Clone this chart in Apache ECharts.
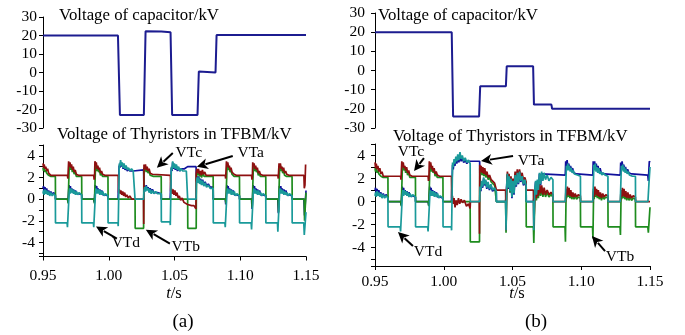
<!DOCTYPE html>
<html><head><meta charset="utf-8">
<script src="https://cdn.jsdelivr.net/npm/echarts@6/dist/echarts.min.js"></script>
<style>html,body{margin:0;padding:0;background:#fff}#c{width:685px;height:335px}</style>
</head><body><div id="c"></div>
<script>
// ---- tick labels ----
const xTicks = [0.95, 1.00, 1.05, 1.10, 1.15];
const capTicks = [-30, -20, -10, 0, 10, 20, 30];
const thyTicks = [-4, -2, 0, 2, 4];

// ---- panel (a): capacitor voltage (kV) vs t (s) ----
const capA = [[0.95,20],[1.0070,20],[1.0085,-23],[1.0267,-23],[1.0280,22.3],[1.0400,22.1],[1.0470,21.8],[1.0482,-23],[1.0675,-23],[1.0685,0.5],[1.0700,0],[1.0812,0],[1.0820,20.3],[1.15,20.3]];
// ---- panel (b): capacitor voltage ----
const capB = [[0.95,20],[1.0058,20],[1.0068,-24],[1.0257,-24],[1.0265,-8.2],[1.0452,-8.2],[1.0458,2.2],[1.0650,2.2],[1.0656,-17.8],[1.0783,-17.8],[1.0788,-20],[1.15,-20]];

// ---- panel (a): thyristor voltages (kV) ----
const vtaA = [[0.9500,1.0],[0.9504,1.2],[0.9509,0.6],[0.9515,1.1],[0.9521,0.7],[0.9528,1.0],[0.9535,0.5],[0.9543,0.8],[0.9551,0.4],[0.9560,0.7],[0.9570,0.4],[0.9580,0.6],[0.9594,0.4],[0.9595,0],
[0.9686,0],[0.9690,-0.3],[0.9698,1.3],[0.9703,0.9],[0.9708,1.2],[0.9713,0.7],[0.9719,1.0],[0.9725,0.6],[0.9732,0.9],[0.9739,0.5],[0.9747,0.8],[0.9755,0.5],[0.9764,0.6],[0.9774,0.5],[0.9794,0.4],[0.9795,0],
[0.9886,0],[0.9890,-0.3],[0.9898,1.3],[0.9903,0.9],[0.9908,1.2],[0.9913,0.7],[0.9919,1.0],[0.9925,0.6],[0.9932,0.9],[0.9939,0.5],[0.9947,0.8],[0.9955,0.4],[0.9964,0.5],[0.9974,0.4],[0.9994,0.3],[0.9995,0],
[1.0071,0],[1.0079,3.1],[1.0085,2.9],[1.0090,3.4],[1.0096,3.0],[1.0102,3.3],[1.0109,2.8],[1.0116,3.2],[1.0124,2.7],[1.0132,3.0],[1.0141,2.6],[1.0150,2.8],[1.0161,2.6],[1.0173,2.7],[1.0186,2.6],[1.0200,2.7],[1.0265,2.7],
[1.0268,0.9],[1.0273,1.2],[1.0279,0.8],[1.0285,1.3],[1.0292,0.9],[1.0299,1.1],[1.0307,0.7],[1.0315,1.0],[1.0323,0.6],[1.0332,0.9],[1.0343,0.6],[1.0356,0.7],[1.0371,0.6],[1.0386,0.6],[1.0399,0.5],[1.0400,0],
[1.0467,0],[1.0476,2.9],[1.0481,2.6],[1.0486,3.4],[1.0492,2.8],[1.0499,3.2],[1.0506,2.7],[1.0514,3.1],[1.0522,2.6],[1.0531,2.9],[1.0540,2.6],[1.0550,2.8],[1.0562,2.7],[1.0576,2.8],[1.0590,2.9],[1.0600,3.0],[1.0664,3.0],
[1.0667,1.6],[1.0672,2.1],[1.0678,1.6],[1.0684,2.1],[1.0691,1.5],[1.0698,1.9],[1.0706,1.4],[1.0714,1.8],[1.0723,1.3],[1.0733,1.6],[1.0744,1.2],[1.0757,1.4],[1.0771,1.1],[1.0794,1.1],[1.0795,0],
[1.0886,0],[1.0890,-0.5],[1.0898,1.3],[1.0903,0.9],[1.0908,1.2],[1.0913,0.7],[1.0919,1.0],[1.0925,0.6],[1.0932,0.9],[1.0939,0.5],[1.0947,0.8],[1.0955,0.4],[1.0964,0.5],[1.0974,0.4],[1.0994,0.3],[1.0995,0],
[1.1086,0],[1.1090,-0.9],[1.1098,1.3],[1.1103,0.9],[1.1108,1.2],[1.1113,0.7],[1.1119,1.0],[1.1125,0.6],[1.1132,0.9],[1.1139,0.5],[1.1147,0.8],[1.1155,0.4],[1.1164,0.5],[1.1174,0.4],[1.1194,0.3],[1.1195,0],
[1.1286,0],[1.1290,-1.3],[1.1298,1.2],[1.1303,0.9],[1.1308,1.2],[1.1313,0.7],[1.1319,1.0],[1.1325,0.6],[1.1332,0.9],[1.1339,0.5],[1.1347,0.8],[1.1355,0.4],[1.1364,0.5],[1.1374,0.4],[1.1394,0.3],[1.1395,0],
[1.1484,0],[1.1489,-1.5],[1.1500,0.8]];

const vtbA = [[0.9500,2.9],[0.9504,2.6],[0.9509,2.9],[0.9515,2.5],[0.9521,2.7],[0.9528,2.4],[0.9535,2.5],[0.9543,2.2],[0.9551,2.3],[0.9560,2.1],[0.9575,2.1],[0.9594,2.1],[0.9595,0],
[0.9688,0],[0.9691,-0.4],[0.9699,2.9],[0.9705,3.2],[0.9711,2.7],[0.9717,3.0],[0.9723,2.5],[0.9730,2.8],[0.9737,2.3],[0.9745,2.5],[0.9753,2.1],[0.9765,2.2],[0.9794,2.1],[0.9795,0],
[0.9888,0],[0.9891,-0.4],[0.9899,2.9],[0.9905,3.2],[0.9911,2.6],[0.9917,2.9],[0.9923,2.5],[0.9930,2.7],[0.9937,2.2],[0.9945,2.4],[0.9953,2.1],[0.9965,2.2],[0.9994,2.1],[0.9995,0],
[1.0200,0],[1.0201,-2.7],[1.0265,-2.7],[1.0267,2.9],[1.0273,2.6],[1.0279,3.0],[1.0285,2.5],[1.0292,2.8],[1.0299,2.4],[1.0307,2.6],[1.0315,2.2],[1.0325,2.3],[1.0340,2.1],[1.0399,2.1],[1.0400,0],
[1.0600,0],[1.0601,-2.7],[1.0665,-2.7],[1.0667,2.2],[1.0672,2.6],[1.0678,2.2],[1.0684,2.6],[1.0691,2.1],[1.0698,2.4],[1.0706,2.0],[1.0715,2.4],[1.0725,2.1],[1.0740,2.1],[1.0794,2.1],[1.0795,0],
[1.0888,0],[1.0891,-0.4],[1.0899,2.9],[1.0905,3.2],[1.0911,2.7],[1.0917,2.9],[1.0923,2.5],[1.0930,2.7],[1.0937,2.3],[1.0945,2.4],[1.0953,2.1],[1.0965,2.2],[1.0994,2.1],[1.0995,0],
[1.1088,0],[1.1091,-0.8],[1.1099,2.8],[1.1105,3.1],[1.1111,2.6],[1.1117,2.9],[1.1123,2.5],[1.1130,2.7],[1.1137,2.2],[1.1145,2.4],[1.1153,2.1],[1.1165,2.2],[1.1194,2.1],[1.1195,0],
[1.1288,0],[1.1291,-1.2],[1.1299,2.8],[1.1305,3.1],[1.1311,2.6],[1.1317,2.8],[1.1323,2.4],[1.1330,2.6],[1.1337,2.2],[1.1345,2.3],[1.1353,2.1],[1.1365,2.2],[1.1394,2.1],[1.1395,0],
[1.1486,0],[1.1489,-2.0],[1.1500,0.6]];

const vtcA = [[0.9500,3.3],[0.9504,2.9],[0.9509,3.2],[0.9515,2.8],[0.9521,3.0],[0.9528,2.6],[0.9535,2.8],[0.9543,2.4],[0.9551,2.5],[0.9560,2.2],[0.9570,2.3],[0.9580,2.2],
[0.9686,2.2],[0.9689,1.9],[0.9692,2.0],[0.9695,3.5],[0.9700,3.0],[0.9705,3.4],[0.9711,2.9],[0.9717,3.2],[0.9723,2.7],[0.9730,3.0],[0.9737,2.5],[0.9745,2.7],[0.9753,2.3],[0.9761,2.4],[0.9770,2.2],
[0.9886,2.2],[0.9889,1.8],[0.9892,2.0],[0.9895,3.5],[0.9900,3.1],[0.9905,3.4],[0.9911,2.8],[0.9917,3.1],[0.9923,2.7],[0.9930,2.9],[0.9937,2.4],[0.9945,2.6],[0.9953,2.3],[0.9961,2.4],[0.9970,2.2],
[1.0072,2.2],[1.0075,0.6],[1.0080,0.9],[1.0086,0.5],[1.0092,0.8],[1.0099,0.4],[1.0106,0.7],[1.0113,0.3],[1.0121,0.6],[1.0129,0.2],[1.0138,0.4],[1.0148,0.1],[1.0160,0.3],[1.0175,0.0],[1.0190,0.1],[1.0200,0.0],
[1.0264,0.0],[1.0266,-2.3],[1.0268,3.2],[1.0273,2.8],[1.0279,3.2],[1.0285,2.7],[1.0292,3.0],[1.0299,2.6],[1.0307,2.8],[1.0315,2.4],[1.0323,2.5],[1.0332,2.3],[1.0342,2.2],
[1.0469,2.2],[1.0471,0.7],[1.0476,1.0],[1.0482,0.5],[1.0489,0.9],[1.0496,0.4],[1.0503,0.8],[1.0511,0.3],[1.0519,0.6],[1.0528,0.1],[1.0537,0.3],[1.0547,-0.1],[1.0558,0.1],[1.0572,-0.3],[1.0586,-0.2],[1.0600,-0.5],[1.0615,-0.4],[1.0630,-0.6],[1.0648,-0.6],[1.0663,-0.9],
[1.0665,2.4],[1.0670,2.8],[1.0676,2.4],[1.0682,2.8],[1.0689,2.3],[1.0696,2.6],[1.0704,2.2],[1.0712,2.7],[1.0720,2.3],[1.0730,2.5],[1.0740,2.2],[1.0752,2.3],[1.0765,2.2],
[1.0886,2.2],[1.0889,1.9],[1.0892,2.0],[1.0895,3.5],[1.0900,3.0],[1.0905,3.4],[1.0911,2.9],[1.0917,3.1],[1.0923,2.7],[1.0930,2.9],[1.0937,2.5],[1.0945,2.6],[1.0953,2.3],[1.0961,2.4],[1.0970,2.2],
[1.1086,2.2],[1.1089,1.8],[1.1092,2.0],[1.1095,3.4],[1.1100,3.0],[1.1105,3.3],[1.1111,2.8],[1.1117,3.1],[1.1123,2.7],[1.1130,2.9],[1.1137,2.4],[1.1145,2.6],[1.1153,2.3],[1.1161,2.4],[1.1170,2.2],
[1.1286,2.2],[1.1289,1.9],[1.1292,2.0],[1.1295,3.3],[1.1300,2.9],[1.1305,3.3],[1.1311,2.8],[1.1317,3.0],[1.1323,2.6],[1.1330,2.9],[1.1337,2.4],[1.1345,2.6],[1.1353,2.3],[1.1361,2.4],[1.1370,2.2],
[1.1484,2.2],[1.1487,1.0],[1.1492,1.3],[1.1497,3.2],[1.1500,3.2]];

const vtdA = [[0.9500,0.5],[0.9504,0.8],[0.9509,0.4],[0.9515,0.9],[0.9521,0.5],[0.9528,0.8],[0.9535,0.4],[0.9543,0.7],[0.9551,0.3],[0.9560,0.6],[0.9570,0.3],[0.9580,0.5],[0.9594,0.3],[0.9595,-2.2],
[0.9683,-2.2],[0.9686,-2.6],[0.9699,0.6],[0.9703,1.0],[0.9708,0.5],[0.9713,1.0],[0.9719,0.6],[0.9725,0.9],[0.9732,0.5],[0.9739,0.8],[0.9747,0.4],[0.9755,0.7],[0.9764,0.4],[0.9774,0.6],[0.9794,0.4],[0.9795,-2.2],
[0.9883,-2.2],[0.9886,-2.6],[0.9899,0.6],[0.9903,1.0],[0.9908,0.5],[0.9913,0.9],[0.9919,0.5],[0.9925,0.9],[0.9932,0.4],[0.9939,0.8],[0.9947,0.4],[0.9955,0.7],[0.9964,0.3],[0.9974,0.5],[0.9994,0.3],[0.9995,-2.2],
[1.0070,-2.2],[1.0072,-2.5],[1.0080,3.3],[1.0085,3.0],[1.0090,3.6],[1.0096,3.1],[1.0102,3.4],[1.0109,2.9],[1.0116,3.3],[1.0124,2.8],[1.0132,3.1],[1.0141,2.7],[1.0150,2.9],[1.0161,2.6],[1.0173,2.8],[1.0186,2.6],[1.0199,2.7],[1.0200,0],
[1.0265,0],[1.0268,0.8],[1.0273,1.1],[1.0279,0.7],[1.0285,1.2],[1.0292,0.8],[1.0299,1.0],[1.0307,0.6],[1.0315,0.9],[1.0323,0.5],[1.0332,0.8],[1.0343,0.5],[1.0356,0.7],[1.0371,0.5],[1.0386,0.6],[1.0399,0.5],[1.0400,-2.1],
[1.0466,-2.1],[1.0468,-2.4],[1.0476,3.0],[1.0481,2.7],[1.0486,3.5],[1.0492,2.9],[1.0499,3.3],[1.0506,2.8],[1.0514,3.2],[1.0522,2.7],[1.0531,3.0],[1.0540,2.6],[1.0550,2.8],[1.0562,2.6],[1.0576,2.7],[1.0590,2.6],[1.0599,2.6],[1.0600,0],
[1.0664,0],[1.0667,1.5],[1.0672,2.0],[1.0678,1.5],[1.0684,2.0],[1.0691,1.4],[1.0698,1.8],[1.0706,1.3],[1.0714,1.7],[1.0723,1.2],[1.0733,1.5],[1.0744,1.1],[1.0757,1.3],[1.0771,1.0],[1.0785,1.1],[1.0794,1.0],[1.0795,-2.2],
[1.0883,-2.2],[1.0886,-2.6],[1.0899,0.6],[1.0903,1.0],[1.0908,0.5],[1.0913,0.9],[1.0919,0.5],[1.0925,0.9],[1.0932,0.4],[1.0939,0.8],[1.0947,0.4],[1.0955,0.7],[1.0964,0.3],[1.0974,0.5],[1.0994,0.3],[1.0995,-2.2],
[1.1083,-2.2],[1.1086,-2.8],[1.1099,0.6],[1.1103,1.0],[1.1108,0.5],[1.1113,0.9],[1.1119,0.5],[1.1125,0.8],[1.1132,0.4],[1.1139,0.8],[1.1147,0.4],[1.1155,0.6],[1.1164,0.3],[1.1174,0.5],[1.1194,0.3],[1.1195,-2.2],
[1.1283,-2.2],[1.1286,-3.0],[1.1299,0.6],[1.1303,1.0],[1.1308,0.5],[1.1313,0.9],[1.1319,0.5],[1.1325,0.8],[1.1332,0.4],[1.1339,0.7],[1.1347,0.4],[1.1355,0.6],[1.1364,0.3],[1.1374,0.5],[1.1394,0.3],[1.1395,-2.2],
[1.1483,-2.2],[1.1487,-3.3],[1.1500,-1.2]];

// ---- panel (b): thyristor voltages (kV) ----
const vtaB = [[0.9500,1.0],[0.9504,1.2],[0.9509,0.6],[0.9515,1.1],[0.9521,0.7],[0.9528,1.0],[0.9535,0.5],[0.9543,0.8],[0.9551,0.4],[0.9560,0.7],[0.9570,0.4],[0.9580,0.6],[0.9594,0.4],[0.9595,0],
[0.9686,0],[0.9690,-0.3],[0.9698,1.3],[0.9703,0.9],[0.9708,1.2],[0.9713,0.7],[0.9719,1.0],[0.9725,0.6],[0.9732,0.9],[0.9739,0.5],[0.9747,0.8],[0.9755,0.5],[0.9764,0.6],[0.9774,0.5],[0.9794,0.4],[0.9795,0],
[0.9886,0],[0.9890,-0.3],[0.9898,1.3],[0.9903,0.9],[0.9908,1.2],[0.9913,0.7],[0.9919,1.0],[0.9925,0.6],[0.9932,0.9],[0.9939,0.5],[0.9947,0.8],[0.9955,0.4],[0.9964,0.5],[0.9974,0.4],[0.9994,0.3],[0.9995,0],
[1.0056,0],[1.0064,3.2],[1.0069,2.8],[1.0075,3.5],[1.0081,3.1],[1.0088,3.7],[1.0095,3.3],[1.0102,3.9],[1.0110,3.4],[1.0118,4.1],[1.0126,3.5],[1.0135,3.8],[1.0145,3.4],[1.0156,3.6],[1.0168,3.3],[1.0180,3.5],[1.0193,3.5],[1.0261,3.5],
[1.0264,1.2],[1.0270,0.9],[1.0276,1.7],[1.0283,1.2],[1.0290,2.0],[1.0297,1.4],[1.0305,1.8],[1.0313,1.1],[1.0322,1.6],[1.0332,1.0],[1.0343,1.4],[1.0355,0.9],[1.0368,1.1],[1.0382,0.8],[1.0383,0],[1.0450,0],
[1.0458,1.4],[1.0463,2.3],[1.0469,1.1],[1.0475,2.1],[1.0482,0.8],[1.0489,1.9],[1.0496,0.3],[1.0503,1.7],[1.0511,0.6],[1.0519,2.2],[1.0527,1.3],[1.0535,2.4],[1.0543,1.5],[1.0551,2.5],[1.0560,1.7],[1.0570,2.1],[1.0580,1.4],[1.0590,1.8],[1.0599,1.3],[1.0600,0],[1.0652,0],
[1.0662,0.9],[1.0668,1.7],[1.0674,0.5],[1.0681,1.8],[1.0688,0.9],[1.0696,2.4],[1.0704,1.4],[1.0710,2.4],[1.0884,2.3],
[1.0887,3.5],[1.0892,3.0],[1.0897,3.6],[1.0903,2.9],[1.0909,3.3],[1.0915,2.8],[1.0922,3.1],[1.0929,2.7],[1.0937,2.9],[1.0945,2.5],[1.0955,2.6],[1.0967,2.4],[1.0980,2.3],[1.1084,2.3],
[1.1087,3.5],[1.1092,3.0],[1.1097,3.5],[1.1103,2.9],[1.1109,3.3],[1.1115,2.8],[1.1122,3.1],[1.1129,2.6],[1.1137,2.9],[1.1145,2.5],[1.1155,2.6],[1.1167,2.4],[1.1180,2.3],[1.1284,2.3],
[1.1287,3.4],[1.1292,3.0],[1.1297,3.5],[1.1303,2.9],[1.1309,3.2],[1.1315,2.7],[1.1322,3.0],[1.1329,2.6],[1.1337,2.8],[1.1345,2.5],[1.1355,2.6],[1.1367,2.4],[1.1380,2.3],[1.1484,2.3],
[1.1488,1.8],[1.1495,3.5],[1.1500,3.4]];

const vtbB = [[0.9500,2.9],[0.9504,2.6],[0.9509,2.9],[0.9515,2.5],[0.9521,2.7],[0.9528,2.4],[0.9535,2.5],[0.9543,2.2],[0.9551,2.3],[0.9560,2.1],[0.9575,2.1],[0.9594,2.1],[0.9595,0],
[0.9688,0],[0.9691,-0.4],[0.9699,2.9],[0.9705,3.2],[0.9711,2.7],[0.9717,3.0],[0.9723,2.5],[0.9730,2.8],[0.9737,2.3],[0.9745,2.5],[0.9753,2.1],[0.9765,2.2],[0.9794,2.1],[0.9795,0],
[0.9888,0],[0.9891,-0.4],[0.9899,2.9],[0.9905,3.2],[0.9911,2.6],[0.9917,2.9],[0.9923,2.5],[0.9930,2.7],[0.9937,2.2],[0.9945,2.4],[0.9953,2.1],[0.9965,2.2],[0.9994,2.1],[0.9995,0],
[1.0192,0],[1.0193,-3.5],[1.0260,-3.5],[1.0262,2.9],[1.0267,2.4],[1.0272,2.9],[1.0278,2.3],[1.0284,2.8],[1.0291,2.2],[1.0298,2.7],[1.0306,2.1],[1.0314,2.4],[1.0323,1.9],[1.0333,2.1],[1.0345,1.7],[1.0358,1.8],[1.0370,1.4],[1.0382,1.3],[1.0383,0],[1.0450,0],
[1.0453,-2.7],[1.0458,1.0],[1.0463,2.4],[1.0469,1.3],[1.0475,2.2],[1.0482,0.8],[1.0489,2.0],[1.0496,0.6],[1.0503,1.8],[1.0511,0.9],[1.0519,2.4],[1.0527,1.6],[1.0535,2.6],[1.0543,1.8],[1.0551,2.6],[1.0560,1.9],[1.0570,2.3],[1.0580,1.6],[1.0590,1.9],[1.0599,1.5],[1.0600,-2.2],[1.0652,-2.2],
[1.0655,-3.6],[1.0662,0.2],[1.0668,1.0],[1.0674,0.1],[1.0681,1.1],[1.0688,0.3],[1.0696,1.3],[1.0704,0.5],[1.0712,1.2],[1.0721,0.4],[1.0730,1.0],[1.0740,0.4],[1.0752,0.8],[1.0765,0.4],[1.0780,0.6],[1.0794,0.4],[1.0795,-2.2],
[1.0882,-2.2],[1.0885,-3.5],[1.0890,0.9],[1.0894,0.3],[1.0899,1.1],[1.0905,0.4],[1.0911,1.0],[1.0917,0.3],[1.0924,0.8],[1.0931,0.2],[1.0939,0.6],[1.0947,0.2],[1.0956,0.5],[1.0966,0.2],[1.0978,0.4],[1.0994,0.3],[1.0995,-2.2],
[1.1082,-2.2],[1.1085,-3.2],[1.1090,0.9],[1.1094,0.2],[1.1099,1.1],[1.1105,0.4],[1.1111,0.9],[1.1117,0.3],[1.1124,0.8],[1.1131,0.2],[1.1139,0.6],[1.1147,0.1],[1.1156,0.5],[1.1166,0.2],[1.1178,0.4],[1.1194,0.3],[1.1195,-2.2],
[1.1282,-2.2],[1.1285,-2.9],[1.1290,0.8],[1.1294,0.2],[1.1299,1.0],[1.1305,0.3],[1.1311,0.9],[1.1317,0.2],[1.1324,0.7],[1.1331,0.1],[1.1339,0.6],[1.1347,0.1],[1.1356,0.4],[1.1366,0.1],[1.1378,0.3],[1.1394,0.2],[1.1395,-2.2],
[1.1484,-2.2],[1.1488,-2.7],[1.1500,-0.5]];

const vtcB = [[0.9500,3.4],[0.9504,2.9],[0.9509,3.3],[0.9515,2.8],[0.9521,3.1],[0.9528,2.6],[0.9535,2.9],[0.9543,2.4],[0.9551,2.6],[0.9560,2.2],[0.9570,2.3],[0.9580,2.2],
[0.9686,2.2],[0.9689,1.9],[0.9692,2.0],[0.9695,3.5],[0.9700,3.0],[0.9705,3.4],[0.9711,2.9],[0.9717,3.1],[0.9723,2.7],[0.9730,3.0],[0.9737,2.5],[0.9745,2.7],[0.9753,2.3],[0.9761,2.4],[0.9770,2.2],
[0.9886,2.2],[0.9889,1.8],[0.9892,2.0],[0.9895,3.5],[0.9900,3.0],[0.9905,3.4],[0.9911,2.8],[0.9917,3.1],[0.9923,2.6],[0.9930,2.9],[0.9937,2.4],[0.9945,2.6],[0.9953,2.3],[0.9961,2.4],[0.9970,2.2],
[1.0056,2.2],[1.0058,0.3],[1.0063,0.5],[1.0069,-0.2],[1.0075,0.3],[1.0082,-0.5],[1.0090,0.1],[1.0098,-0.3],[1.0107,0.3],[1.0116,-0.2],[1.0126,0.2],[1.0137,-0.1],[1.0150,0.1],[1.0165,-0.4],[1.0180,-0.2],[1.0192,-0.6],[1.0194,0],[1.0258,0],[1.0260,-2.8],
[1.0262,3.2],[1.0267,2.6],[1.0272,3.1],[1.0278,2.5],[1.0284,3.0],[1.0291,2.4],[1.0298,2.9],[1.0306,2.3],[1.0314,2.6],[1.0323,2.1],[1.0333,2.3],[1.0345,1.9],[1.0358,2.0],[1.0370,1.6],[1.0382,1.5],[1.0383,1.0],[1.0450,1.0],
[1.0453,-2.5],[1.0458,1.2],[1.0463,2.6],[1.0469,1.5],[1.0475,2.4],[1.0482,1.0],[1.0489,2.2],[1.0496,0.8],[1.0503,2.0],[1.0511,1.1],[1.0519,2.6],[1.0527,1.8],[1.0535,2.8],[1.0543,2.0],[1.0551,2.8],[1.0560,2.1],[1.0570,2.5],[1.0580,1.8],[1.0590,2.1],[1.0599,1.7],[1.0600,1.0],[1.0652,1.0],
[1.0655,-2.3],[1.0662,0.4],[1.0668,1.2],[1.0674,0.3],[1.0681,1.3],[1.0688,0.5],[1.0696,1.5],[1.0704,0.7],[1.0712,1.4],[1.0721,0.6],[1.0730,1.2],[1.0740,0.6],[1.0752,1.0],[1.0765,0.6],[1.0780,0.8],[1.0794,0.6],[1.0795,0],
[1.0885,0],[1.0889,1.1],[1.0894,0.5],[1.0899,1.3],[1.0905,0.6],[1.0911,1.2],[1.0917,0.5],[1.0924,1.0],[1.0931,0.4],[1.0939,0.8],[1.0947,0.4],[1.0956,0.7],[1.0966,0.4],[1.0978,0.6],[1.0994,0.5],[1.0995,0],
[1.1085,0],[1.1089,1.1],[1.1094,0.4],[1.1099,1.3],[1.1105,0.6],[1.1111,1.1],[1.1117,0.5],[1.1124,1.0],[1.1131,0.4],[1.1139,0.8],[1.1147,0.3],[1.1156,0.7],[1.1166,0.4],[1.1178,0.6],[1.1194,0.5],[1.1195,0],
[1.1285,0],[1.1289,1.0],[1.1294,0.4],[1.1299,1.2],[1.1305,0.5],[1.1311,1.1],[1.1317,0.4],[1.1324,0.9],[1.1331,0.3],[1.1339,0.8],[1.1347,0.3],[1.1356,0.6],[1.1366,0.3],[1.1378,0.5],[1.1394,0.4],[1.1395,0],
[1.1500,0]];

const vtdB = [[0.9500,0.5],[0.9504,0.8],[0.9509,0.4],[0.9515,0.9],[0.9521,0.5],[0.9528,0.8],[0.9535,0.4],[0.9543,0.7],[0.9551,0.3],[0.9560,0.6],[0.9570,0.3],[0.9580,0.5],[0.9594,0.3],[0.9595,-2.2],
[0.9683,-2.2],[0.9686,-2.6],[0.9699,0.6],[0.9703,1.0],[0.9708,0.5],[0.9713,1.0],[0.9719,0.6],[0.9725,0.9],[0.9732,0.5],[0.9739,0.8],[0.9747,0.4],[0.9755,0.7],[0.9764,0.4],[0.9774,0.6],[0.9794,0.4],[0.9795,-2.2],
[0.9883,-2.2],[0.9886,-2.6],[0.9899,0.6],[0.9903,1.0],[0.9908,0.5],[0.9913,0.9],[0.9919,0.5],[0.9925,0.9],[0.9932,0.4],[0.9939,0.8],[0.9947,0.4],[0.9955,0.7],[0.9964,0.3],[0.9974,0.5],[0.9994,0.3],[0.9995,-2.2],
[1.0055,-2.2],[1.0057,-2.5],[1.0064,3.4],[1.0069,3.0],[1.0075,3.7],[1.0081,3.3],[1.0088,3.9],[1.0095,3.5],[1.0102,4.1],[1.0110,3.6],[1.0118,4.3],[1.0126,3.7],[1.0135,4.0],[1.0145,3.5],[1.0156,3.8],[1.0168,3.4],[1.0180,3.6],[1.0192,3.3],[1.0193,0],[1.0261,0],
[1.0264,1.3],[1.0270,1.0],[1.0276,1.8],[1.0283,1.3],[1.0290,2.1],[1.0297,1.5],[1.0305,1.9],[1.0313,1.2],[1.0322,1.7],[1.0332,1.1],[1.0343,1.5],[1.0355,1.0],[1.0368,1.2],[1.0382,0.9],[1.0383,0],[1.0450,0],
[1.0453,-2.5],[1.0458,1.5],[1.0463,2.4],[1.0469,1.2],[1.0475,2.2],[1.0482,0.9],[1.0489,2.0],[1.0496,0.4],[1.0503,1.8],[1.0511,0.7],[1.0519,2.3],[1.0527,1.4],[1.0535,2.5],[1.0543,1.6],[1.0551,2.6],[1.0560,1.8],[1.0570,2.2],[1.0580,1.5],[1.0590,1.9],[1.0599,1.4],[1.0600,0],[1.0652,0],
[1.0655,-2.5],[1.0662,1.0],[1.0668,1.8],[1.0674,0.6],[1.0681,1.9],[1.0688,1.0],[1.0696,2.5],[1.0704,1.5],[1.0712,2.6],[1.0721,1.8],[1.0730,2.5],[1.0740,1.9],[1.0752,2.3],[1.0765,1.8],[1.0780,2.1],[1.0794,1.9],[1.0795,0],
[1.0884,0],[1.0889,2.0],[1.0892,3.1],[1.0897,2.7],[1.0902,3.3],[1.0908,2.7],[1.0914,3.1],[1.0920,2.6],[1.0927,2.9],[1.0934,2.5],[1.0942,2.7],[1.0950,2.4],[1.0960,2.5],[1.0972,2.3],[1.0985,2.3],[1.0994,2.2],[1.0995,0],
[1.1084,0],[1.1089,2.0],[1.1092,3.2],[1.1097,2.7],[1.1102,3.3],[1.1108,2.6],[1.1114,3.0],[1.1120,2.5],[1.1127,2.9],[1.1134,2.4],[1.1142,2.6],[1.1150,2.3],[1.1160,2.5],[1.1172,2.3],[1.1185,2.3],[1.1194,2.2],[1.1195,0],
[1.1284,0],[1.1289,2.0],[1.1292,3.1],[1.1297,2.7],[1.1302,3.2],[1.1308,2.6],[1.1314,3.0],[1.1320,2.5],[1.1327,2.8],[1.1334,2.4],[1.1342,2.6],[1.1350,2.3],[1.1360,2.4],[1.1372,2.2],[1.1385,2.3],[1.1394,2.2],[1.1395,0],
[1.1485,0],[1.1492,1.5],[1.1500,3.0]];

// ---- annotation labels: [text, gridIndex, label t, label v, arrow tail t, v, arrow head t, v] ----
const notes = [
  ['VTc', 1, 1.0609, 4.27, 1.0487, 4.27, 1.0366, 2.89],
  ['VTa', 1, 1.1080, 4.27, 1.0943, 3.99, 1.0670, 2.98],
  ['VTd', 1, 1.0130, -4.01, 1.0062, -3.64, 0.9903, -2.54],
  ['VTb', 1, 1.0586, -4.38, 1.0465, -4.10, 1.0282, -2.82],
  ['VTc', 3, 0.9762, 4.30, 0.9856, 3.78, 0.9784, 2.65],
  ['VTa', 3, 1.0635, 3.52, 1.0504, 3.96, 1.0271, 3.52],
  ['VTd', 3, 0.9885, -4.39, 0.9776, -3.87, 0.9667, -2.65],
  ['VTb', 3, 1.1282, -4.83, 1.1173, -4.30, 1.1078, -3.00]
];

const FONT = '"Liberation Serif","Times New Roman",serif';
const COL = {cap:'#1c1c90', a:'#10109c', b:'#1e8c1e', c:'#8e1010', d:'#1a9a9a'};

const chart = echarts.init(document.getElementById('c'), null, {renderer:'canvas'});

function xAx(g, show, margin) {
  return {type:'value', gridIndex:g, min:0.95, max:1.15, interval:0.05, show:show,
    axisLine:{show:true, onZero:false, lineStyle:{color:'#000', width:1}},
    axisTick:{show:true, inside:false, length:4, lineStyle:{color:'#000'}},
    axisLabel:{show:true, margin:margin, color:'#000', fontFamily:FONT, fontSize:15.5,
      formatter: v => { const m = xTicks.find(t => Math.abs(t - v) < 1e-6); return m === undefined ? '' : m.toFixed(2); }},
    splitLine:{show:false}};
}
function yCap(g, margin) {
  return {type:'value', gridIndex:g, min:-30, max:30, interval:10,
    axisLine:{show:true, onZero:false, lineStyle:{color:'#000', width:1}},
    axisTick:{show:true, inside:false, length:4, lineStyle:{color:'#000'}},
    axisLabel:{margin:margin, color:'#000', fontFamily:FONT, fontSize:15.5,
      formatter: v => capTicks.includes(Math.round(v)) && Math.abs(v-Math.round(v))<1e-6 ? String(Math.round(v)) : ''},
    splitLine:{show:false}};
}
function yThy(g, min, margin) {
  return {type:'value', gridIndex:g, min:min, max:5, splitNumber:10,
    axisLine:{show:true, onZero:false, lineStyle:{color:'#000', width:1}},
    axisTick:{show:true, inside:false, length:4, lineStyle:{color:'#000'}},
    axisLabel:{margin:margin, color:'#000', fontFamily:FONT, fontSize:15.5, showMinLabel:true, showMaxLabel:true,
      formatter: v => { const r = Math.round(v); return (Math.abs(v-r)<1e-6 && thyTicks.includes(r)) ? String(r) : ''; }},
    splitLine:{show:false}};
}
function ser(data, g, color, w) {
  return {type:'line', data:data, xAxisIndex:g, yAxisIndex:g, showSymbol:false, symbol:'none',
    lineStyle:{color:color, width:w}, itemStyle:{color:color}, animation:false, silent:true, clip:true};
}

const option = {
  backgroundColor:'#fff',
  animation:false,
  grid:[
    {left:43, top:17, width:263, height:111},
    {left:43, top:145, width:263, height:111.5},
    {left:375, top:13, width:275, height:115},
    {left:375, top:144, width:275, height:122}
  ],
  xAxis:[xAx(0,false,11), xAx(1,true,11), xAx(2,false,8), xAx(3,true,8)],
  yAxis:[yCap(0,6), yThy(1,-5.3,8), yCap(2,10), yThy(3,-5.6,10)],
  series:[
    ser(capA,0,COL.cap,2),
    ser(vtaA,1,COL.a,1.7), ser(vtbA,1,COL.b,1.7), ser(vtcA,1,COL.c,1.7), ser(vtdA,1,COL.d,1.7),
    ser(capB,2,COL.cap,2),
    ser(vtaB,3,COL.a,1.7), ser(vtbB,3,COL.b,1.7), ser(vtcB,3,COL.c,1.7), ser(vtdB,3,COL.d,1.7)
  ]
};
chart.setOption(option);

// ---- text and arrows ----
function txt(s, x, y, size, align) {
  return {type:'text', silent:true, z:100, style:{text:s, x:x, y:y, fill:'#000', fontFamily:FONT, fontSize:size, align:align||'left', verticalAlign:'middle'}};
}
const g = [
  txt('Voltage of capacitor/kV', 59, 16, 16.8),
  txt('Voltage of Thyristors in TFBM/kV', 57, 135, 16.8),
  txt('Voltage of capacitor/kV', 378, 16, 16.8),
  txt('Voltage of Thyristors in TFBM/kV', 393, 137, 16.8),
  {type:'text', silent:true, style:{text:'{i|t}/s', x:174, y:294, fill:'#000', fontFamily:FONT, fontSize:16.5, align:'center', verticalAlign:'middle', rich:{i:{fontStyle:'italic', fontFamily:FONT, fontSize:16.5}}}},
  {type:'text', silent:true, style:{text:'{i|t}/s', x:517, y:294, fill:'#000', fontFamily:FONT, fontSize:16.5, align:'center', verticalAlign:'middle', rich:{i:{fontStyle:'italic', fontFamily:FONT, fontSize:16.5}}}},
  txt('(a)', 183, 322, 19, 'center'),
  txt('(b)', 536, 322, 19, 'center')
];
notes.forEach(n => {
  const [s, gi, lt, lv, tt, tv, ht, hv] = n;
  const L = chart.convertToPixel({gridIndex:gi}, [lt, lv]);
  const T = chart.convertToPixel({gridIndex:gi}, [tt, tv]);
  const H = chart.convertToPixel({gridIndex:gi}, [ht, hv]);
  g.push(txt(s, L[0], L[1], 15.5, 'center'));
  const dx = H[0]-T[0], dy = H[1]-T[1], len = Math.hypot(dx, dy);
  const ux = dx/len, uy = dy/len, nx = -uy, ny = ux;
  const hl = 11, hw = 5.5;
  const bx = H[0]-ux*hl, by = H[1]-uy*hl;
  g.push({type:'line', silent:true, z:100, shape:{x1:T[0], y1:T[1], x2:bx+ux*2, y2:by+uy*2}, style:{stroke:'#000', lineWidth:2}});
  g.push({type:'polygon', silent:true, z:101, shape:{points:[[H[0],H[1]],[bx+nx*hw,by+ny*hw],[bx+ux*3,by+uy*3],[bx-nx*hw,by-ny*hw]]}, style:{fill:'#000'}});
});
chart.setOption({graphic:g});
</script>
</body></html>
